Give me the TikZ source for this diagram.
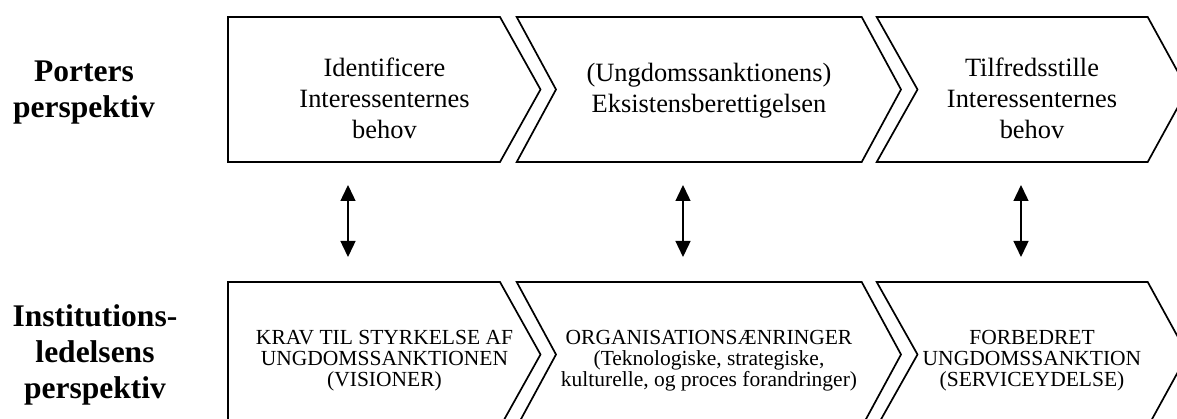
\documentclass[tikz,border=0pt]{standalone}
\usepackage{fontspec}
\setmainfont{Liberation Serif}
\usetikzlibrary{arrows.meta}

\tikzset{
  chev/.style={draw=black, line width=1.7pt, line join=miter, fill=white},
  toptext/.style={align=center, inner sep=0pt, font=\fontsize{26.4}{31}\selectfont},
  bottext/.style={align=center, inner sep=0pt, font=\fontsize{21.5}{21}\selectfont},
  side/.style={align=center, inner sep=0pt, font=\fontsize{31.5}{36}\selectfont\bfseries},
  link/.style={line width=1.4pt,
    {Triangle[length=16pt,width=15pt]}-{Triangle[length=16pt,width=15pt]}},
}

\begin{document}
\begin{tikzpicture}[x=1pt,y=-1pt]
  \useasboundingbox (0,0) rectangle (1177,419);
  \clip (0,0) rectangle (1177,419);

  % value chain: upper row (T=17, M=89.5, B=162)
  \draw[chev] (228,17) -- (500,17) -- (540.5,89.5) -- (500,162) -- (228,162) -- cycle;
  \draw[chev] (516.7,17) -- (861.7,17) -- (901,89.5) -- (861.7,162) -- (516.7,162) -- (556,89.5) -- cycle;
  \draw[chev] (876.7,17) -- (1147.7,17) -- (1187.5,89.5) -- (1147.7,162) -- (876.7,162) -- (917.5,89.5) -- cycle;

  % value chain: lower row (T=282, M=354.5, B=427)
  \draw[chev] (228,282) -- (500,282) -- (540.5,354.5) -- (500,427) -- (228,427) -- cycle;
  \draw[chev] (516.7,282) -- (861.7,282) -- (901,354.5) -- (861.7,427) -- (516.7,427) -- (556,354.5) -- cycle;
  \draw[chev] (876.7,282) -- (1147.7,282) -- (1187.5,354.5) -- (1147.7,427) -- (876.7,427) -- (917.5,354.5) -- cycle;

  % row headings
  \node[side] (hporter) at (84,93) {Porters\\perspektiv};
  \node[side] (hledelse) at (95,355) {Institutions-\\ledelsens\\perspektiv};

  % upper row texts
  \node[toptext] (p1) at (384.5,98) {Identificere\\Interessenternes\\behov};
  \node[toptext] (p2) at (709,91) {(Ungdomssanktionens)\\Eksistensberettigelsen};
  \node[toptext] (p3) at (1032,98) {Tilfredsstille\\Interessenternes\\behov};

  % lower row texts
  \node[bottext] (l1) at (384.5,361) {KRAV TIL STYRKELSE AF\\UNGDOMSSANKTIONEN\\(VISIONER)};
  \node[bottext] (l2) at (709,361) {ORGANISATIONSÆNRINGER\\(Teknologiske, strategiske,\\kulturelle, og proces forandringer)};
  \node[bottext] (l3) at (1032,361) {FORBEDRET\\UNGDOMSSANKTION\\(SERVICEYDELSE)};

  % two-way links between the rows
  \coordinate (a1t) at (348,185);  \coordinate (a1b) at (348,257);
  \coordinate (a2t) at (683,185);  \coordinate (a2b) at (683,257);
  \coordinate (a3t) at (1021,185); \coordinate (a3b) at (1021,257);
  \draw[link] (a1t) -- (a1b);
  \draw[link] (a2t) -- (a2b);
  \draw[link] (a3t) -- (a3b);
\end{tikzpicture}
\end{document}
